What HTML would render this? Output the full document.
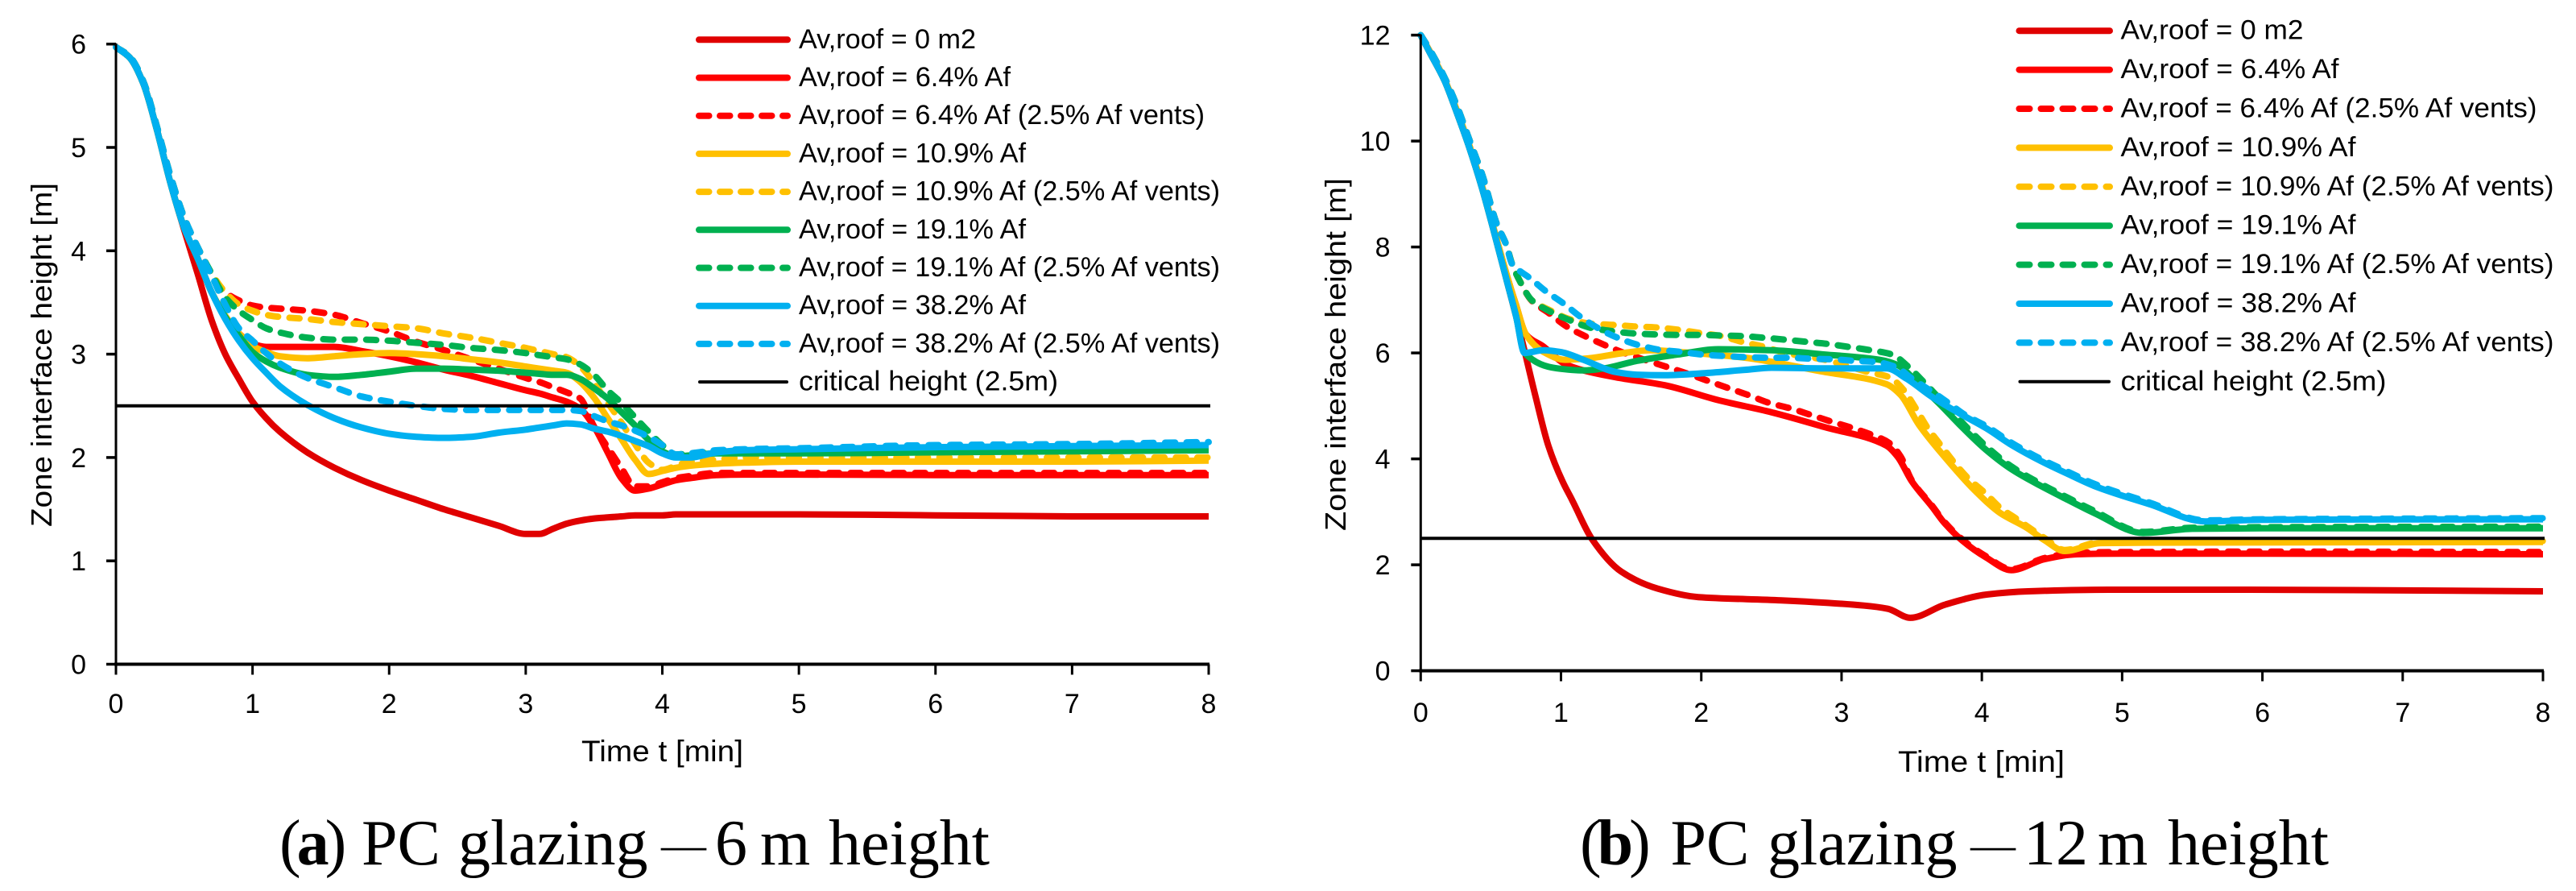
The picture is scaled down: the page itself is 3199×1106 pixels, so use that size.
<!DOCTYPE html>
<html lang="en">
<head>
<meta charset="utf-8">
<title>Zone interface height charts</title>
<style>
html,body{margin:0;padding:0;background:#fff;width:3199px;height:1106px;overflow:hidden}
svg{display:block}
text{font-family:"Liberation Sans",sans-serif;fill:#000}
.cap{font-family:"Liberation Serif",serif;font-size:80px}
.paren{letter-spacing:-5px}
</style>
</head>
<body>
<svg id="figure" xmlns="http://www.w3.org/2000/svg" width="3199" height="1106" viewBox="0 0 3199 1106">
  <rect x="0" y="0" width="3199" height="1106" fill="#fff"/>
  <g id="chart-a"></g>
  <g id="chart-b"></g>
  <text x="722" y="945" font-size="37" textLength="201" lengthAdjust="spacingAndGlyphs">Time t [min]</text>
  <text x="2357" y="958" font-size="37" textLength="207" lengthAdjust="spacingAndGlyphs">Time t [min]</text>
  <text transform="translate(64,654) rotate(-90)" font-size="36" textLength="427" lengthAdjust="spacingAndGlyphs">Zone interface height [m]</text>
  <text transform="translate(1671,659) rotate(-90)" font-size="36" textLength="438" lengthAdjust="spacingAndGlyphs">Zone interface height [m]</text>
  <text class="cap" y="1073"><tspan class="paren" x="347">(<tspan font-weight="bold">a</tspan>)</tspan> <tspan x="449">PC</tspan> <tspan x="569">glazing</tspan><tspan x="821" dy="-6" font-size="56">—</tspan><tspan x="888" dy="6">6</tspan> <tspan x="944">m</tspan> <tspan x="1029">height</tspan></text>
  <text class="cap" y="1073"><tspan class="paren" x="1962">(<tspan font-weight="bold">b</tspan>)</tspan> <tspan x="2074.5">PC</tspan> <tspan x="2195">glazing</tspan><tspan x="2447" dy="-6" font-size="56">—</tspan><tspan x="2513" dy="6">12</tspan> <tspan x="2605">m</tspan> <tspan x="2692">height</tspan></text>
</svg>
<script>
// ---------- shared labels ----------
const legendLabels = ["Av,roof = 0 m2","Av,roof = 6.4% Af","Av,roof = 6.4% Af (2.5% Af vents)","Av,roof = 10.9% Af","Av,roof = 10.9% Af (2.5% Af vents)","Av,roof = 19.1% Af","Av,roof = 19.1% Af (2.5% Af vents)","Av,roof = 38.2% Af","Av,roof = 38.2% Af (2.5% Af vents)","critical height (2.5m)"];
const seriesNames = ["roof-0","roof-6-4","roof-6-4-vents","roof-10-9","roof-10-9-vents","roof-19-1","roof-19-1-vents","roof-38-2","roof-38-2-vents"];
const xTickLabels = [0,1,2,3,4,5,6,7,8];
const yTickLabelsA = [0,1,2,3,4,5,6];
const yTickLabelsB = [0,2,4,6,8,10,12];
const criticalHeight = 2.5;

// ---------- chart A (6 m) : time [min] and interface height [m] ----------
const timeA = [0,.1,.2,.3,.4,.5, .6,.7,.8,.9, 1,1.1,1.2, 1.4,1.6,1.8,2, 2.2,2.4,2.6,2.8, 3,3.1,3.2,3.3, 3.4,3.5,3.6,3.7, 3.8,3.9,4, 4.1,4.2,4.4,4.6,5, 6,7,8];
const a0 = [5.97,5.87,5.62,5.17,4.65,4.2, 3.77,3.33,3.0,2.76, 2.54,2.38,2.25, 2.05,1.9,1.78,1.68, 1.59,1.5,1.42,1.34, 1.26,1.26,1.31,1.36, 1.39,1.41,1.42,1.43, 1.44,1.44,1.44, 1.45,1.45,1.45,1.45,1.45, 1.44,1.43,1.43];
const a64 = [5.97,5.87,5.62,5.17,4.65,4.22, 3.92,3.6,3.37,3.2, 3.1,3.07,3.07, 3.07,3.07,3.03,2.98, 2.92,2.85,2.79,2.72, 2.65,2.62,2.58,2.54, 2.47,2.3,2.05,1.8, 1.68,1.7,1.74, 1.78,1.8,1.83,1.835,1.835, 1.83,1.83,1.83];
const a64d = [5.97,5.88,5.64,5.2,4.72,4.32, 4.03,3.78,3.6,3.52, 3.47,3.45,3.44, 3.42,3.38,3.3,3.22, 3.12,3.04,2.95,2.86, 2.77,2.73,2.68,2.63, 2.57,2.3,2.1,1.9, 1.72,1.72,1.76, 1.8,1.82,1.85,1.85,1.85, 1.85,1.85,1.85];
const a109 = [5.97,5.87,5.62,5.17,4.65,4.22, 3.92,3.6,3.37,3.2, 3.08,3.02,2.98, 2.96,2.98,3.0,3.01, 3.0,2.98,2.95,2.92, 2.88,2.86,2.84,2.82, 2.73,2.58,2.38,2.18, 1.98,1.84,1.87, 1.9,1.92,1.94,1.95,1.96, 1.96,1.96,1.97];
const a109d = [5.97,5.88,5.64,5.2,4.72,4.32, 4.03,3.78,3.6,3.48, 3.42,3.38,3.36, 3.34,3.31,3.29,3.27, 3.25,3.2,3.16,3.11, 3.06,3.03,3.0,2.97, 2.88,2.72,2.53,2.34, 2.13,1.95,1.88, 1.92,1.96,1.98,2.0,2.0, 2.0,2.0,2.0];
const a191 = [5.97,5.87,5.62,5.17,4.65,4.22, 3.92,3.6,3.36,3.18, 3.02,2.93,2.87, 2.8,2.78,2.8,2.83, 2.86,2.86,2.85,2.84, 2.82,2.81,2.8,2.8, 2.76,2.67,2.57,2.44, 2.31,2.17,2.06, 2.01,2.02,2.04,2.04,2.04, 2.05,2.06,2.07];
const a191d = [5.97,5.88,5.64,5.2,4.72,4.32, 4.03,3.78,3.55,3.42, 3.33,3.25,3.21, 3.16,3.14,3.14,3.13, 3.11,3.09,3.06,3.04, 3.01,2.99,2.97,2.95, 2.9,2.8,2.65,2.53, 2.39,2.25,2.12, 2.03,2.04,2.06,2.07,2.08, 2.09,2.1,2.11];
const a382 = [5.97,5.87,5.62,5.17,4.65,4.22, 3.92,3.6,3.34,3.13, 2.96,2.82,2.69, 2.51,2.38,2.29,2.23, 2.2,2.19,2.2,2.24, 2.27,2.29,2.31,2.33, 2.32,2.28,2.25,2.21, 2.16,2.11,2.04, 2.0,2.0,2.05,2.07,2.08, 2.1,2.11,2.12];
const a382d = [5.97,5.88,5.64,5.2,4.72,4.32, 4.03,3.76,3.48,3.25, 3.13,3.01,2.91, 2.77,2.68,2.59,2.54, 2.5,2.47,2.46,2.46, 2.46,2.46,2.46,2.46, 2.45,2.4,2.35,2.31, 2.26,2.2,2.12, 2.03,2.04,2.07,2.08,2.09, 2.12,2.13,2.15];

// ---------- chart B (12 m) : each series sampled at its own times ----------
const b0T = [0,.067,.17,.257,.345,.435,.52,.61,.68,.75,.82,.91,1.01,1.08,1.22,1.43,1.69,1.98,2.57,3.16,3.33,3.49,3.74,4.04,4.33,4.9,5.85,8];
const b0V = [12,11.66,11.14,10.54,9.89,9.13,8.31,7.4,6.69,5.93,5.16,4.25,3.58,3.22,2.49,1.87,1.55,1.39,1.33,1.23,1.17,1.0,1.25,1.44,1.5,1.53,1.53,1.5];
const b64T = [0,.067,.17,.257,.345,.435,.52,.61,.68,.75,.875,1.03,1.16,1.39,1.74,2.12,2.5,2.88,3.32,3.4,3.5,3.65,3.73,3.86,4.03,4.21,4.45,4.68,5,6,8];
const b64V = [12,11.68,11.16,10.58,9.93,9.17,8.35,7.5,6.9,6.35,6.12,5.79,5.67,5.54,5.39,5.11,4.88,4.6,4.25,4.04,3.58,3.08,2.8,2.46,2.14,1.9,2.11,2.2,2.21,2.21,2.2];
const b64dT = [0,.07,.17,.26,.35,.44,.54,.61,.65,.71,.79,.91,1.04,1.17,1.31,1.45,1.62,1.75,1.89,2.04,2.2,2.34,2.48,2.64,2.78,2.92,3.08,3.22,3.34,3.42,3.5,3.65,3.73,3.86,4.03,4.21,4.45,4.68,5,6,8];
const b64dV = [12,11.7,11.2,10.65,10.0,9.35,8.45,8.04,7.69,7.34,6.99,6.76,6.5,6.32,6.15,6.0,5.85,5.74,5.62,5.48,5.33,5.2,5.06,4.95,4.83,4.71,4.58,4.45,4.3,4.05,3.6,3.1,2.82,2.48,2.16,1.92,2.13,2.23,2.24,2.25,2.24];
const b109T = [0,.067,.17,.257,.345,.435,.52,.61,.68,.75,.875,1.03,1.2,1.45,1.64,1.83,2.28,2.86,3.32,3.42,3.55,3.75,3.94,4.13,4.32,4.45,4.59,4.85,5.5,8];
const b109V = [12,11.68,11.16,10.58,9.93,9.17,8.35,7.5,6.9,6.35,6.02,5.87,5.9,6.0,6.05,6.02,5.92,5.65,5.41,5.21,4.65,3.99,3.43,2.98,2.7,2.46,2.26,2.41,2.42,2.43];
const b109dT = [0,.07,.17,.26,.35,.44,.54,.61,.65,.71,.79,.91,1.07,1.22,1.37,1.52,1.68,1.83,1.98,2.14,2.29,2.44,2.6,2.88,3.19,3.34,3.44,3.53,3.61,3.71,3.8,3.9,4.03,4.13,4.24,4.45,4.59,4.85,5.5,8];
const b109dV = [12,11.7,11.2,10.65,10.0,9.35,8.45,8.04,7.69,7.34,7.0,6.82,6.63,6.55,6.53,6.5,6.48,6.44,6.38,6.32,6.21,6.12,6.0,5.87,5.64,5.54,5.31,4.95,4.6,4.25,3.94,3.64,3.34,3.08,2.88,2.5,2.28,2.43,2.44,2.45];
const b191T = [0,.067,.17,.257,.345,.435,.52,.61,.68,.74,.97,1.16,1.31,1.54,1.83,2.12,2.5,2.88,3.27,3.4,3.55,3.69,3.84,4.03,4.22,4.42,4.61,4.8,5.15,5.5,6,8];
const b191V = [12,11.66,11.14,10.54,9.89,9.13,8.31,7.4,6.69,6.0,5.71,5.67,5.71,5.85,5.97,6.07,6.05,5.97,5.87,5.77,5.41,5.06,4.65,4.17,3.79,3.49,3.23,2.98,2.6,2.68,2.69,2.69];
const b191dT = [0,.07,.17,.26,.35,.44,.54,.61,.65,.71,.79,.91,1.07,1.22,1.37,1.51,1.67,1.82,1.98,2.13,2.28,2.43,2.6,2.75,2.9,3.06,3.21,3.36,3.48,3.59,3.84,4.03,4.22,4.42,4.61,4.8,5.15,5.5,6,8];
const b191dV = [12,11.7,11.2,10.65,10.0,9.35,8.45,8.04,7.69,7.34,7.0,6.8,6.61,6.47,6.41,6.37,6.35,6.34,6.34,6.33,6.32,6.29,6.25,6.21,6.17,6.11,6.05,5.97,5.73,5.44,4.74,4.24,3.84,3.53,3.27,3.02,2.62,2.7,2.71,2.72];
const b382T = [0,.067,.17,.257,.345,.435,.52,.61,.68,.74,.875,1.01,1.16,1.39,1.54,1.74,2.03,2.31,2.5,2.88,3.32,3.46,3.65,3.84,4.03,4.22,4.42,4.61,4.8,5.2,5.59,6,8];
const b382V = [12,11.66,11.14,10.54,9.89,9.13,8.31,7.4,6.69,6.0,6.05,6.01,5.87,5.64,5.59,5.58,5.62,5.68,5.72,5.71,5.71,5.52,5.16,4.86,4.58,4.25,3.96,3.72,3.49,3.14,2.82,2.85,2.86];
const b382dT = [0,.07,.17,.26,.35,.44,.54,.61,.65,.7,.77,.89,1.02,1.14,1.27,1.4,1.55,1.7,1.85,2.01,2.17,2.32,2.47,2.62,2.78,2.94,3.09,3.24,3.39,3.5,3.65,3.76,3.88,4.03,4.22,4.42,4.61,4.8,5.2,5.59,6,8];
const b382dV = [12,11.7,11.2,10.65,10.0,9.35,8.45,8.04,7.69,7.56,7.43,7.17,6.93,6.68,6.46,6.29,6.15,6.06,6.02,5.97,5.94,5.92,5.91,5.91,5.89,5.88,5.85,5.83,5.73,5.52,5.26,5.06,4.83,4.62,4.29,4.0,3.76,3.53,3.17,2.84,2.86,2.88];

// ---------- styling (not data) ----------
const palette = ["#E00000","#FF0000","#FF0000","#FFC000","#FFC000","#00B050","#00B050","#00B0F0","#00B0F0"];
const dashed = [false,false,true,false,true,false,true,false,true];
const legendWidthsA = [220,263,504,282,523,282,523,282,523,322];
const legendWidthsB = [227,271,517,292,538,292,538,292,538,330];

const NS = "http://www.w3.org/2000/svg";
function mk(parent, tag, attrs, txt){
  const e = document.createElementNS(NS, tag);
  for (const k in attrs) e.setAttribute(k, attrs[k]);
  if (txt !== undefined) e.textContent = txt;
  parent.appendChild(e);
  return e;
}

// monotone cubic path: smooth between readings, keeps kinks and never overshoots
function monotonePath(xs, ys){
  const n = xs.length, d = [], m = new Array(n);
  for (let i = 0; i < n - 1; i++) d[i] = (ys[i + 1] - ys[i]) / (xs[i + 1] - xs[i]);
  m[0] = d[0];
  m[n - 1] = d[n - 2];
  for (let i = 1; i < n - 1; i++) {
    if (d[i - 1] * d[i] <= 0) { m[i] = 0; continue; }
    const h0 = xs[i] - xs[i - 1], h1 = xs[i + 1] - xs[i];
    const w1 = 2 * h1 + h0, w2 = h1 + 2 * h0;
    m[i] = (w1 + w2) / (w1 / d[i - 1] + w2 / d[i]);
  }
  let out = "M" + xs[0].toFixed(1) + " " + ys[0].toFixed(1);
  for (let i = 0; i < n - 1; i++) {
    const h = (xs[i + 1] - xs[i]) / 3;
    out += "C" + (xs[i] + h).toFixed(1) + " " + (ys[i] + m[i] * h).toFixed(1) + " " +
      (xs[i + 1] - h).toFixed(1) + " " + (ys[i + 1] - m[i + 1] * h).toFixed(1) + " " +
      xs[i + 1].toFixed(1) + " " + ys[i + 1].toFixed(1);
  }
  return out;
}

function drawChart(root, f, timesList, valuesList, yTicks, legendWidths){
  const sx = t => f.x0 + (f.x8 - f.x0) * t / 8;
  const sy = v => f.yBase + (f.yTop - f.yBase) * v / f.yMax;

  // series
  valuesList.forEach((vals, i) => {
    const ts = timesList[i];
    const line = mk(root, "path", {d: monotonePath(ts.map(sx), vals.map(sy)), fill: "none", stroke: palette[i], "stroke-width": 8,
      "stroke-linejoin": "round", "stroke-linecap": dashed[i] ? "round" : "butt"});
    if (dashed[i]) line.setAttribute("stroke-dasharray", "12.5 14.2");
    
    
  });

  // critical height line
  const crit = mk(root, "line", {x1: f.x0, x2: f.x8 + 2, y1: sy(criticalHeight), y2: sy(criticalHeight), stroke: "#000", "stroke-width": 4});
  
  

  // axes
  const yAxis = mk(root, "line", {x1: f.x0, x2: f.x0, y1: f.yTop - 1, y2: f.yBase + 1, stroke: "#000", "stroke-width": 3});
  
  
  const xAxis = mk(root, "line", {x1: f.x0 - 2, x2: f.x8 + 1, y1: f.yBase, y2: f.yBase, stroke: "#000", "stroke-width": 4});
  
  

  // x ticks
  xTickLabels.forEach(t => {
    const tk = mk(root, "line", {x1: sx(t), x2: sx(t), y1: f.yBase, y2: f.yBase + 13, stroke: "#000", "stroke-width": 3});
    
    
    const lb = mk(root, "text", {x: sx(t), y: f.xLabelY, "font-size": 34, "text-anchor": "middle"}, String(t));
    
    
  });

  // y ticks
  yTicks.forEach(v => {
    const tk = mk(root, "line", {x1: f.x0 - 12, x2: f.x0, y1: sy(v), y2: sy(v), stroke: "#000", "stroke-width": 3.5});
    
    
    const lb = mk(root, "text", {x: f.yLabelX, y: sy(v) + 12, "font-size": 34, "text-anchor": "end"}, String(v));
    
    
  });

  // legend
  const lg = mk(root, "g", {});
  
  
  legendLabels.forEach((label, i) => {
    const y = f.legendY + f.legendStep * i;
    const isCrit = i === legendLabels.length - 1;
    const sw = mk(lg, "line", {x1: f.legendX0 + (isCrit ? 5 : 4), x2: f.legendX1 - (isCrit ? 5 : 4), y1: y, y2: y,
      stroke: isCrit ? "#000" : palette[i], "stroke-width": isCrit ? 4 : 8, "stroke-linecap": "round"});
    if (!isCrit && dashed[i]) sw.setAttribute("stroke-dasharray", f.legendDash);
    
    
    const tx = mk(lg, "text", {x: f.legendText, y: y + 10.5, "font-size": 34, textLength: legendWidths[i], lengthAdjust: "spacingAndGlyphs"}, label);
    
    
  });
}

drawChart(document.getElementById("chart-a"),
  {x0: 144, x8: 1501, yBase: 824.5, yTop: 54.7, yMax: 6, xLabelY: 885, yLabelX: 107,
   legendY: 49.3, legendStep: 47.2, legendX0: 864, legendX1: 982, legendText: 992, legendDash: "12.5 13.5"},
  [timeA,timeA,timeA,timeA,timeA,timeA,timeA,timeA,timeA],
  [a0,a64,a64d,a109,a109d,a191,a191d,a382,a382d],
  yTickLabelsA, legendWidthsA);

drawChart(document.getElementById("chart-b"),
  {x0: 1764.3, x8: 3158, yBase: 832.6, yTop: 43.6, yMax: 12, xLabelY: 896, yLabelX: 1726.5,
   legendY: 38.2, legendStep: 48.4, legendX0: 2503.5, legendX1: 2624, legendText: 2633.5, legendDash: "13 14"},
  [b0T,b64T,b64dT,b109T,b109dT,b191T,b191dT,b382T,b382dT],
  [b0V,b64V,b64dV,b109V,b109dV,b191V,b191dV,b382V,b382dV],
  yTickLabelsB, legendWidthsB);
</script>
</body>
</html>
